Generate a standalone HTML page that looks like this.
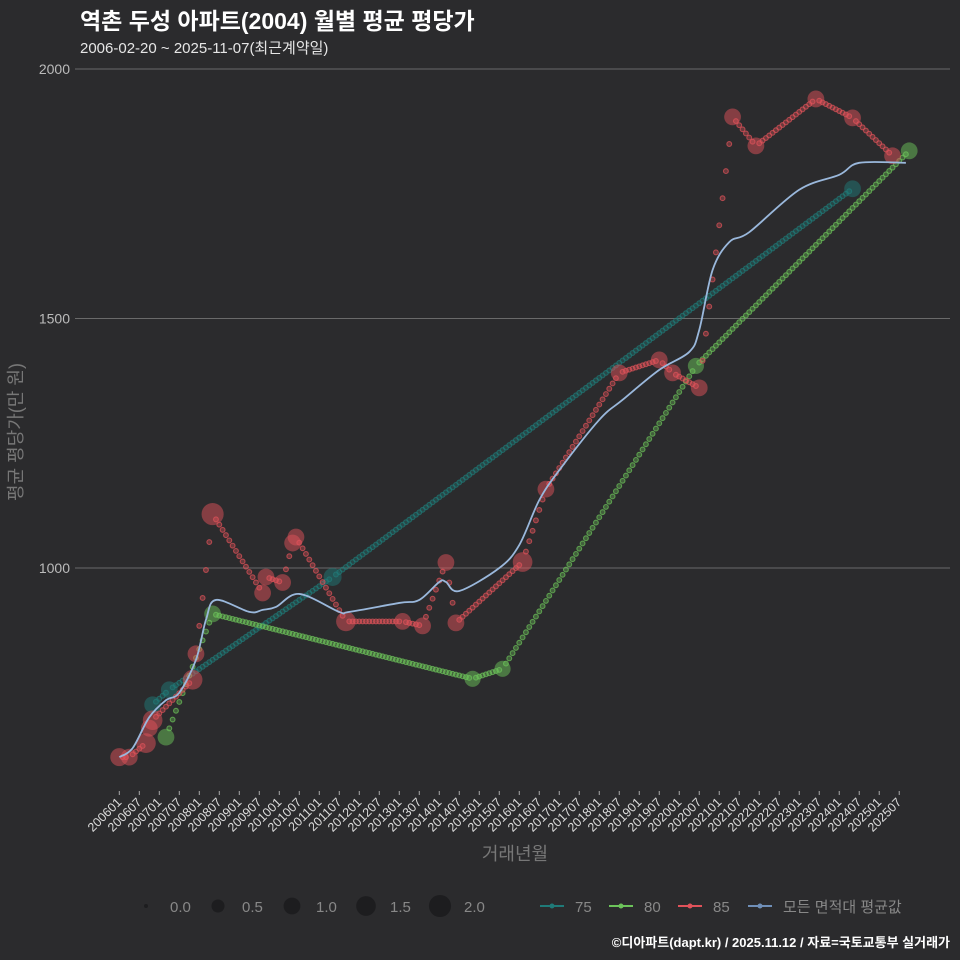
<!DOCTYPE html>
<html><head><meta charset="utf-8"><style>
body{margin:0;background:#2b2b2d;}
svg{display:block;font-family:"Liberation Sans","Noto Sans CJK KR",sans-serif;}
</style></head><body>
<svg id="c" width="960" height="960" viewBox="0 0 960 960">
<rect width="960" height="960" fill="#2b2b2d"/>
<text x="80" y="29" font-size="23" font-weight="bold" fill="#ffffff">역촌 두성 아파트(2004) 월별 평균 평당가</text>
<text x="80" y="53" font-size="15" fill="#e6e6e6">2006-02-20 ~ 2025-11-07(최근계약일)</text>
<g id="grid"></g>
<g id="yt"></g>
<g id="xt"></g>
<text transform="translate(22,432) rotate(-90)" text-anchor="middle" font-size="18" fill="#777">평균 평당가(만 원)</text>
<text x="515" y="860" text-anchor="middle" font-size="18" fill="#777">거래년월</text>
<g id="series"></g>
<g id="legend"></g>
<text x="950" y="947" text-anchor="end" font-size="13" font-weight="bold" fill="#ffffff">©디아파트(dapt.kr) / 2025.11.12 / 자료=국토교통부 실거래가</text>
</svg>
<script>
// months since 2006-01
const yTicks=[1000,1500,2000];
const xTickLabels=[];for(let y=2006;y<=2025;y++){xTickLabels.push(y+'01');xTickLabels.push(y+'07');}
const s75Months=[10,15,64,220];
const s75Values=[726,756,982,1760];
const s75Sizes=[1.0,1.0,1.2,1.0];
const s80Months=[14,28,106,115,173,237];
const s80Values=[661,908,778,798,1405,1836];
const s80Sizes=[1.0,1.0,0.9,0.9,0.9,1.0];
const s85Months=[0,3,8,9,10,22,23,28,43,44,49,52,53,68,85,91,98,101,121,128,150,162,166,174,184,191,209,220,232];
const s85Values=[621,621,649,679,695,776,828,1108,950,982,971,1050,1062,893,893,884,1011,890,1012,1158,1391,1417,1391,1361,1904,1846,1940,1902,1826];
const s85Sizes=[1.2,1.0,1.5,1.0,1.5,1.5,1.0,2.0,1.0,1.0,1.0,1.0,1.0,1.5,1.0,1.0,1.0,1.0,1.5,1.0,1.0,1.0,1.0,1.0,1.0,1.0,1.0,1.0,1.0];
const avgMonths=[0,4,9,14,18,23,26,29,39,43,47,54,66,69,84,90,96,98,102,114,120,126,132,144,151,162,171,174,178,183,189,204,216,222,236];
const avgValues=[621,639,701,735,750,816,896,936,912,916,922,948,912,912,930,936,972,972,954,1000,1046,1136,1196,1297,1337,1397,1433,1477,1597,1653,1673,1758,1788,1812,1812];
const legendSizes=[0,0.5,1,1.5,2];

const NS='http://www.w3.org/2000/svg';
const X=m=>119.3+m*3.333;
const Y=v=>568-(v-1000)*0.499;
const R=s=>2+6.4*Math.sqrt(s);
function el(t,a,p){const e=document.createElementNS(NS,t);for(const k in a)e.setAttribute(k,a[k]);p.appendChild(e);return e;}
const grid=document.getElementById('grid'),yt=document.getElementById('yt'),xt=document.getElementById('xt'),S=document.getElementById('series'),L=document.getElementById('legend');
yTicks.forEach(v=>{
 const l=el('line',{x1:75,x2:950,y1:Y(v),y2:Y(v),stroke:'#6a6a6a','stroke-width':1},grid);
 
 
 const t=el('text',{x:70,y:Y(v)+5,'text-anchor':'end','font-size':14,fill:'#bbb'},yt);t.textContent=v;
 
 
});
xTickLabels.forEach((lab,i)=>{
 const x=X(i*6);
 const tk=el('line',{x1:x,x2:x,y1:791,y2:795,stroke:'#aaa'},xt);
 
 
 const t=el('text',{x:x+3,y:803,'text-anchor':'end','font-size':12.5,fill:'#ddd',transform:`rotate(-45 ${x+3} 803)`},xt);t.textContent=lab;
 
 
});
function series(ms,vs,ss,col,name){
 const g=el('g',{},S);
 
 
 for(let i=0;i<ms.length-1;i++){
  const n=ms[i+1]-ms[i];
  for(let k=1;k<n;k++){
   const m=ms[i]+k,v=vs[i]+(vs[i+1]-vs[i])*k/n;
   const d=el('circle',{cx:X(m),cy:Y(v),r:2.4,fill:col,'fill-opacity':0.35,stroke:col,'stroke-opacity':0.7,'stroke-width':1.1},g);
   
   
  }
 }
 ms.forEach((m,i)=>{
  const c=el('circle',{cx:X(m),cy:Y(vs[i]),r:R(ss[i]),fill:col,'fill-opacity':0.5},g);
  
  
 });
}
series(s75Months,s75Values,s75Sizes,'#1f7a78','75');
series(s80Months,s80Values,s80Sizes,'#6cc35a','80');
series(s85Months,s85Values,s85Sizes,'#e0525a','85');
// smooth average line (Catmull-Rom)
const P=avgMonths.map((m,i)=>[X(m),Y(avgValues[i])]);
let d='M'+P[0][0]+','+P[0][1];
for(let i=0;i<P.length-1;i++){
 const p0=P[Math.max(0,i-1)],p1=P[i],p2=P[i+1],p3=P[Math.min(P.length-1,i+2)];
 const c1=[p1[0]+(p2[0]-p0[0])/6,p1[1]+(p2[1]-p0[1])/6];
 const c2=[p2[0]-(p3[0]-p1[0])/6,p2[1]-(p3[1]-p1[1])/6];
 d+=` C${c1[0]},${c1[1]} ${c2[0]},${c2[1]} ${p2[0]},${p2[1]}`;
}
const avg=el('path',{d:d,fill:'none',stroke:'#9ab8dc','stroke-width':1.8},S);


// legend
const lx=[146,218,292,366,440];
legendSizes.forEach((s,i)=>{
 const c=el('circle',{cx:lx[i],cy:906,r:R(s),fill:'#1d1d1f'},L);
 
 
 const t=el('text',{x:lx[i]+24,y:912,'font-size':15,fill:'#888'},L);t.textContent=s.toFixed(1);
 
 
});
[['75','#1f7a78',552],['80','#6cc35a',621],['85','#e0525a',690],['모든 면적대 평균값','#6f8fb8',760]].forEach(([lab,col,x])=>{
 const g=el('g',{},L);
 
 
 el('line',{x1:x-12,x2:x+12,y1:906,y2:906,stroke:col,'stroke-width':2},g);
 el('circle',{cx:x,cy:906,r:2.5,fill:col},g);
 const t=el('text',{x:x+23,y:912,'font-size':15,fill:'#888'},g);t.textContent=lab;
});
</script>
</body></html>
